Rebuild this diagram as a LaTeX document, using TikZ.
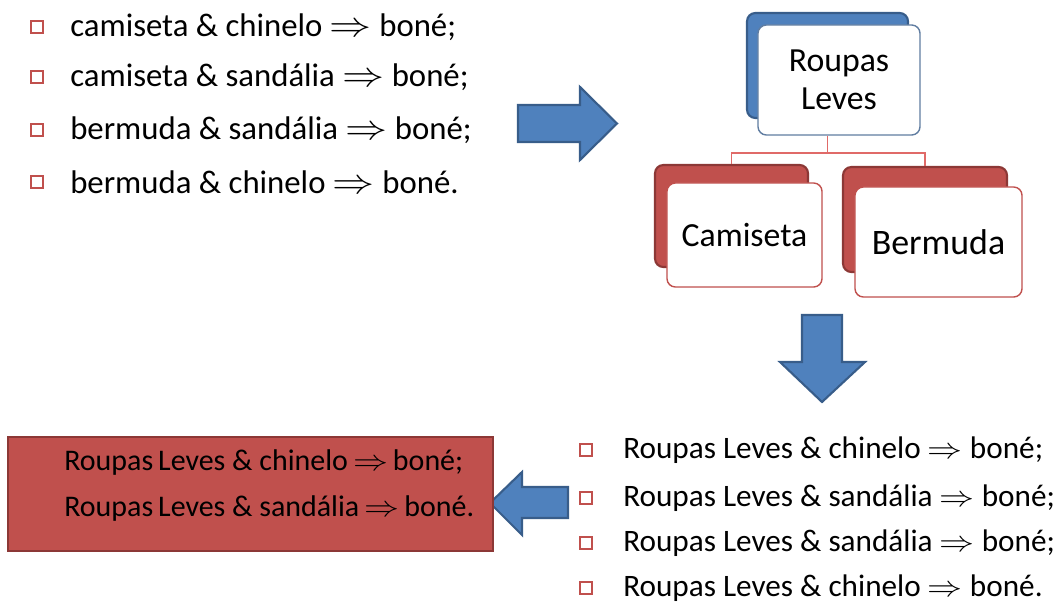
\documentclass[tikz,border=0pt]{standalone}
\usepackage{fontspec}
\setmainfont{Carlito}
\usepackage{amsmath}
\usepackage{amssymb}
\usepackage{tikz}
\usetikzlibrary{positioning}

\definecolor{boxblue}{HTML}{4F81BD}
\definecolor{edgeblue}{HTML}{385D8A}
\definecolor{boxred}{HTML}{C0504D}
\definecolor{edgered}{HTML}{8C3836}
\definecolor{linkred}{HTML}{E06A68}

\newcommand{\imp}{\mbox{\scalebox{1.2}[1.0]{$\Rightarrow$}}}

\tikzset{
  item/.style={anchor=west, inner sep=0pt, font=\fontsize{22.2}{27}\selectfont},
  tick/.style={draw=boxred, line width=1.6pt, minimum size=8.3pt, inner sep=0pt},
  blockarrow/.style={fill=boxblue, draw=edgeblue, line width=1.5pt, line join=miter},
  backcard/.style={rounded corners=6pt, line width=1.5pt},
  card/.style={fill=white, rounded corners=6pt, line width=1pt, align=center,
    font=\fontsize{24}{27}\selectfont},
  link/.style={draw=linkred, line width=1.4pt}
}

\begin{document}
\begin{tikzpicture}[x=0.025cm, y=-0.025cm]
    \useasboundingbox (0,0) rectangle (1063,604);

    % first list
    \node[tick] (t1) at (37,27) {};
    \node[tick] (t2) at (37,77) {};
    \node[tick] (t3) at (37,130) {};
    \node[tick] (t4) at (37,182) {};
    \node[item, font=\fontsize{23.3}{27}\selectfont] (a1) at (70,27) {camiseta \& chinelo \imp{} boné;};
    \node[item, font=\fontsize{23.3}{27}\selectfont] (a2) at (70,77) {camiseta \& sandália \imp{} boné;};
    \node[item, font=\fontsize{23.3}{27}\selectfont] (a3) at (70,130) {bermuda \& sandália \imp{} boné;};
    \node[item, font=\fontsize{23.3}{27}\selectfont] (a4) at (70,182) {bermuda \& chinelo \imp{} boné.};

    \draw [blockarrow] (518,105)--(580,105)--(580,87)--(617,123.5)--(580,160)--(580,142)--(518,142)--cycle;

    % hierarchy
    \node[backcard, fill=boxblue, draw=edgeblue, minimum width=4.025cm, minimum height=2.625cm] (topback) at (827.5,65.5) {};
    \node[backcard, fill=boxred, draw=edgered, minimum width=3.825cm, minimum height=2.55cm] (camback) at (731.5,216) {};
    \node[backcard, fill=boxred, draw=edgered, minimum width=4.1cm, minimum height=2.625cm] (berback) at (925,219.5) {};
    \node[card, draw=edgeblue!80, minimum width=4.05cm, minimum height=2.75cm] (top) at (839,80) {Roupas\\Leves};
    \node[card, draw=boxred, minimum width=3.875cm, minimum height=2.6cm] (cam) at (744.5,235) {Camiseta};
    \node[card, draw=boxred, minimum width=4.175cm, minimum height=2.75cm, font=\fontsize{25.5}{27}\selectfont] (ber) at (938.5,242) {Bermuda};
    \draw [link] (topback.south |- top.south) -- ++(0,17) -| (camback.north);
    \draw [link] (topback.south |- top.south) -- ++(0,17) -| (berback.north);

    \draw [blockarrow] (802,315)--(842,315)--(842,362)--(865,362)--(822,402)--(780,362)--(802,362)--cycle;

    % second list
    \node[tick] (t5) at (586,450) {};
    \node[tick] (t6) at (586,498) {};
    \node[tick] (t7) at (586,543) {};
    \node[tick] (t8) at (586,588) {};
    \node[item] (b1) at (623,450) {Roupas Leves \& chinelo \imp{} boné;};
    \node[item] (b2) at (623,498) {Roupas Leves \& sandália \imp{} boné;};
    \node[item] (b3) at (623,543) {Roupas Leves \& sandália \imp{} boné;};
    \node[item] (b4) at (623,588) {Roupas Leves \& chinelo \imp{} boné.};

    \draw [blockarrow] (490,503)--(522,472)--(522,487)--(568,487)--(568,518)--(522,518)--(522,535)--cycle;

    % result
    \node[fill=boxred, draw=edgered, line width=1.5pt, minimum width=12.125cm, minimum height=2.85cm] (rules) at (250.5,494) {};
    \node[item, font=\fontsize{21.3}{27}\selectfont] (c1) at (64,463) {Roupas\,Leves \& chinelo\,\imp\,boné;};
    \node[item, font=\fontsize{21.3}{27}\selectfont] (c2) at (64,509) {Roupas\,Leves \& sandália\,\imp\,boné.};
  \end{tikzpicture}
\end{document}
